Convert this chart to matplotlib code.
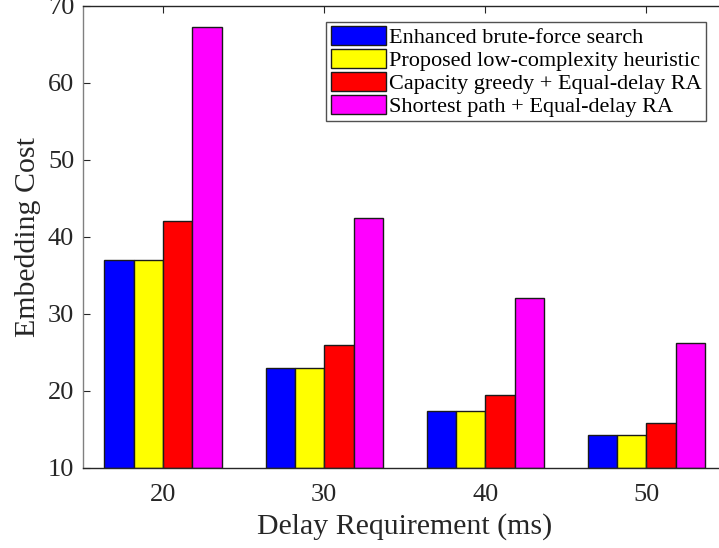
import matplotlib
matplotlib.use("Agg")
import matplotlib.pyplot as plt
import numpy as np

plt.rcParams['font.family'] = ['Liberation Serif', 'DejaVu Serif']

delays = [20, 30, 40, 50]
series_names = [
    "Enhanced brute-force search",
    "Proposed low-complexity heuristic",
    "Capacity greedy + Equal-delay RA",
    "Shortest path + Equal-delay RA",
]
brute_force = [37.0, 23.0, 17.4, 14.25]
proposed = [37.0, 23.0, 17.4, 14.2]
capacity_greedy = [42.0, 25.9, 19.4, 15.8]
shortest_path = [67.3, 42.4, 32.0, 26.2]
colors = ["#0000ff", "#ffff00", "#ff0000", "#ff00ff"]
yticks = [10, 20, 30, 40, 50, 60, 70]

fig = plt.figure(figsize=(7.19, 5.48), dpi=100)
ax = fig.add_axes([82.5/719, (548-467.7)/548, (727-82.5)/719, 461.7/548])

w = 1.82
series = [brute_force, proposed, capacity_greedy, shortest_path]
x = np.array(delays, dtype=float)
for i, (vals, c, name) in enumerate(zip(series, colors, series_names)):
    ax.bar(x + (i - 1.5) * w, np.array(vals) - 10, bottom=10, width=w,
           color=c, edgecolor="#1a1a1a", linewidth=1.0, label=name)

ax.set_xlim(15, 55)
ax.set_ylim(10, 70)
ax.set_xticks(delays)
ax.set_yticks(yticks)
ax.tick_params(direction="in", labelsize=19, colors="#262626", length=5,
               top=True, right=True)
ax.tick_params(axis="x", pad=12)
ax.tick_params(axis="y", pad=6)
for sp in ax.spines.values():
    sp.set_color("#262626")
    sp.set_linewidth(1.0)
ax.spines['left'].set_color("#808080")

ax.set_xlabel("Delay Requirement (ms)", fontsize=21.5, color="#262626", labelpad=5)
ax.set_ylabel("Embedding Cost", fontsize=21.5, color="#262626", labelpad=5)

leg = ax.legend(loc="upper right",
                bbox_to_anchor=((706 - 82.5) / (727 - 82.5), 1 - (21.7 - 6) / 461.7),
                bbox_transform=ax.transAxes,
                fontsize=16, frameon=True, fancybox=False, edgecolor="#262626",
                borderpad=0.2, labelspacing=0.03, handlelength=2.5,
                handleheight=0.95, handletextpad=0.12, borderaxespad=0.0)
leg.get_frame().set_linewidth(1.0)

fig.savefig("out.png", dpi=100)
